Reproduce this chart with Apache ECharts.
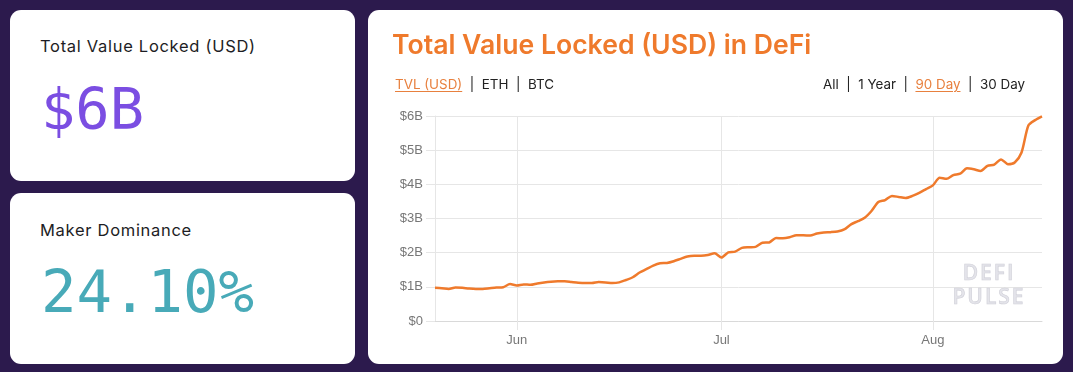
<!DOCTYPE html>
<html>
<head>
<meta charset="utf-8">
<script src="https://cdn.jsdelivr.net/npm/echarts@6/dist/echarts.min.js"></script>
<style>
  html, body { margin: 0; padding: 0; }
  body { width: 1073px; height: 372px; background: #2c1a4d; position: relative; overflow: hidden; font-family: Inter, "Open Sans", sans-serif; }
  .card { position: absolute; background: #fff; border-radius: 11px; }
  .lbl { position: absolute; left: 30px; font-size: 16.5px; color: #1d1d24; letter-spacing: 0.7px; }
  .big { position: absolute; left: 31px; font-family: "DejaVu Sans Mono", monospace; }
  #title { position: absolute; left: 24px; top: 18px; font-size: 26.6px; font-weight: 600; color: #ef7a2c; white-space: nowrap; }
  .links { position: absolute; top: 66px; font-size: 13.4px; color: #222; white-space: nowrap; }
  .links u { color: #e8803e; text-underline-offset: 2px; }
  #chart { position: absolute; left: 0; top: 0; width: 695px; height: 354px; }
  #wm { position: absolute; left: 571px; top: 250px; width: 100px; text-align: center; font-family: "Open Sans", sans-serif; font-weight: 600; font-size: 21px; line-height: 24px; letter-spacing: 2px; color: #e4e4ea; -webkit-text-stroke: 0.6px #d0d0d8; pointer-events: none; }
</style>
</head>
<body>
<div class="card" style="left:10px;top:10px;width:345px;height:171px;">
  <div class="lbl" style="top:26px;">Total Value Locked (USD)</div>
  <div class="big" style="top:66px;font-size:57px;color:#7b4ee2;">$6B</div>
</div>
<div class="card" style="left:10px;top:193px;width:345px;height:171px;">
  <div class="lbl" style="top:27px;">Maker Dominance</div>
  <div class="big" style="top:64px;font-size:59px;color:#48aab8;">24.10%</div>
</div>
<div class="card" style="left:368px;top:10px;width:695px;height:354px;">
  <div id="chart"></div>
  <div id="title">Total Value Locked (USD) in DeFi</div>
  <div class="links" style="left:27px;"><u>TVL (USD)</u> &nbsp;| &nbsp;ETH &nbsp;| &nbsp;BTC</div>
  <div class="links" style="right:38px;">All &nbsp;| &nbsp;1 Year &nbsp;| &nbsp;<u>90 Day</u> &nbsp;| &nbsp;30 Day</div>
  <div id="wm">DEFI<br>PULSE</div>
</div>
<script>
// Daily dates, 2020-05-20 .. 2020-08-17
const dates = [
  '2020-05-20','2020-05-21','2020-05-22','2020-05-23','2020-05-24','2020-05-25','2020-05-26','2020-05-27','2020-05-28','2020-05-29','2020-05-30','2020-05-31',
  '2020-06-01','2020-06-02','2020-06-03','2020-06-04','2020-06-05','2020-06-06','2020-06-07','2020-06-08','2020-06-09','2020-06-10',
  '2020-06-11','2020-06-12','2020-06-13','2020-06-14','2020-06-15','2020-06-16','2020-06-17','2020-06-18','2020-06-19','2020-06-20',
  '2020-06-21','2020-06-22','2020-06-23','2020-06-24','2020-06-25','2020-06-26','2020-06-27','2020-06-28','2020-06-29','2020-06-30',
  '2020-07-01','2020-07-02','2020-07-03','2020-07-04','2020-07-05','2020-07-06','2020-07-07','2020-07-08','2020-07-09','2020-07-10',
  '2020-07-11','2020-07-12','2020-07-13','2020-07-14','2020-07-15','2020-07-16','2020-07-17','2020-07-18','2020-07-19','2020-07-20',
  '2020-07-21','2020-07-22','2020-07-23','2020-07-24','2020-07-25','2020-07-26','2020-07-27','2020-07-28','2020-07-29','2020-07-30','2020-07-31',
  '2020-08-01','2020-08-02','2020-08-03','2020-08-04','2020-08-05','2020-08-06','2020-08-07','2020-08-08','2020-08-09','2020-08-10',
  '2020-08-11','2020-08-12','2020-08-13','2020-08-14','2020-08-15','2020-08-16','2020-08-17'
];
// Total value locked, billions USD
const tvl = [
  0.97,0.96,0.94,0.98,0.97,0.95,0.94,0.94,0.96,0.98,0.99,1.08,
  1.04,1.07,1.06,1.10,1.13,1.15,1.16,1.16,1.14,1.12,
  1.11,1.11,1.14,1.13,1.11,1.13,1.20,1.28,1.42,1.52,
  1.62,1.69,1.70,1.75,1.82,1.89,1.91,1.91,1.93,1.98,
  1.86,2.01,2.03,2.14,2.16,2.17,2.29,2.30,2.43,2.42,
  2.45,2.51,2.51,2.50,2.56,2.59,2.60,2.62,2.68,2.83,
  2.92,3.02,3.22,3.48,3.54,3.66,3.63,3.60,3.66,3.75,3.86,
  3.97,4.19,4.16,4.27,4.31,4.47,4.44,4.39,4.54,4.58,
  4.73,4.59,4.64,4.93,5.72,5.88,5.99
];
const xTickDates = ['2020-06-01','2020-07-01','2020-08-01'];
const xTickLabels = ['Jun','Jul','Aug'];
const yTicks = [0,1,2,3,4,5,6];
const yTickLabels = ['$0','$1B','$2B','$3B','$4B','$5B','$6B'];

const isTick = (i) => xTickDates.indexOf(dates[i]) >= 0;
const chart = echarts.init(document.getElementById('chart'));
chart.setOption({
  animation: false,
  grid: { left: 67, right: 21, top: 106, bottom: 43 },
  xAxis: {
    type: 'category', data: dates, boundaryGap: false,
    axisLine: { lineStyle: { color: '#d9d9d9' } },
    axisTick: { show: true, length: 9, interval: (i) => isTick(i), lineStyle: { color: '#e6e6e6' } },
    splitLine: { show: true, interval: (i) => isTick(i), lineStyle: { color: '#e6e6e6' } },
    axisLabel: { interval: (i) => isTick(i), margin: 13, color: '#777', fontSize: 13, fontFamily: 'Liberation Sans, Arial',
      formatter: (v) => xTickLabels[xTickDates.indexOf(v)] }
  },
  yAxis: {
    type: 'value', min: 0, max: 6, interval: 1,
    axisLine: { show: true, lineStyle: { color: '#e6e6e6' } },
    axisTick: { show: true, length: 9, lineStyle: { color: '#e6e6e6' } },
    splitLine: { lineStyle: { color: '#e6e6e6' } },
    axisLabel: { margin: 12, color: '#777', fontSize: 13, fontFamily: 'Liberation Sans, Arial',
      formatter: (v) => yTickLabels[yTicks.indexOf(v)] }
  },
  series: [{
    type: 'line', data: tvl, symbol: 'none', smooth: 0.25,
    lineStyle: { color: '#ef7a2c', width: 2.5 }
  }]
});
</script>
</body>
</html>
